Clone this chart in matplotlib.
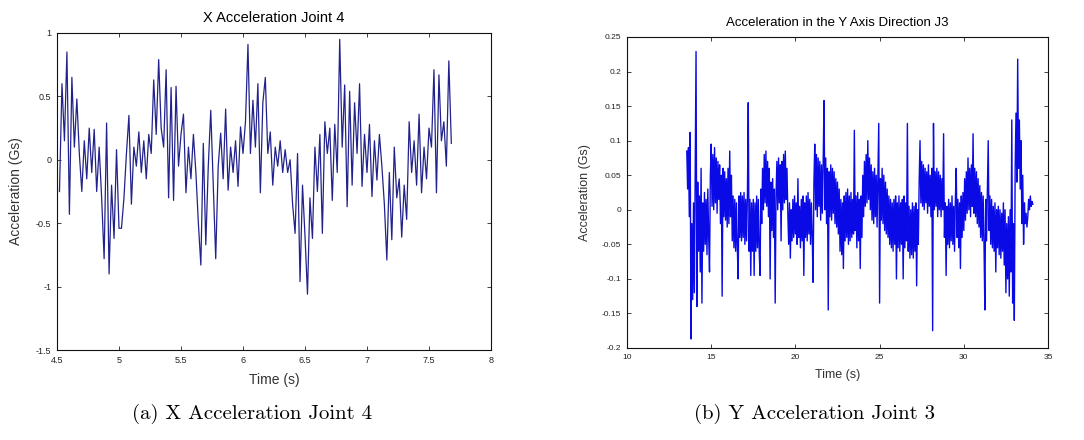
import numpy as np
import matplotlib
matplotlib.use("Agg")
import matplotlib.pyplot as plt
from matplotlib.ticker import FixedLocator, FixedFormatter

# ---------------- data ----------------
# (a) X acceleration joint 4, samples every 0.02 s starting at 4.52 s (Gs)
left_t0 = 4.52
left_dt = 0.02
left_vals = [
    -0.25, 0.60, 0.15, 0.85, -0.43, 0.65, 0.10, 0.48, 0.05, -0.25, 0.15, -0.15, 0.25,
    -0.10, 0.24, -0.25, 0.10, -0.30, -0.78, 0.29, -0.90, -0.20, -0.62, 0.08, -0.54,
    -0.54, -0.30, 0.05, 0.35, -0.35, 0.10, -0.05, 0.22, -0.10, 0.15, -0.15, 0.20, 0.05,
    0.63, 0.20, 0.79, 0.25, 0.10, 0.71, -0.30, 0.57, -0.32, 0.58, -0.05, 0.20,
    0.36, -0.26, 0.10, -0.15, 0.20, -0.10, -0.50, -0.83, 0.13, -0.67, -0.05, 0.39, -0.20,
    -0.78, -0.05, 0.21, -0.15, 0.40, -0.24, 0.10, -0.10, 0.15, -0.21, 0.26, 0.05,
    0.30, 0.91, 0.05, 0.47, 0.10, 0.60, -0.26, 0.45, 0.65, 0.05, 0.22, -0.20, 0.10,
    -0.05, 0.15, -0.10, 0.08, -0.10, 0.00, -0.35, -0.58, 0.05, -0.96, -0.20, -0.60,
    -1.06, -0.30, -0.62, 0.10, -0.25, 0.20, -0.58, 0.30, 0.05, 0.25, -0.32, 0.28, -0.10,
    0.95, 0.10, 0.59, -0.37, 0.54, -0.20, 0.45, 0.05, 0.60, -0.21, 0.20, -0.10,
    0.28, -0.29, 0.15, -0.16, 0.20, -0.05, -0.35, -0.79, -0.10, -0.63, 0.10, -0.30, -0.15,
    -0.61, -0.20, -0.47, 0.30, -0.10, 0.15, -0.20, 0.36, -0.26, 0.10, -0.15, 0.25,
    0.10, 0.71, -0.26, 0.67, 0.15, 0.30, -0.05, 0.78, 0.13,
]

# (b) Y acceleration joint 3, samples every 0.05 s starting at 13.55 s (milli-Gs)
right_t0 = 13.55
right_dt = 0.05
right_vals_milli = [
    85, 30, 90, -10, 112, -187, -20, -130, 10, -120, 45, 229, -140, 40, -60, 20, -90, 60, -135, 10,
    -60, 25, -50, 15, -65, 30, -40, -90, 50, 95, 5, 80, 0, 90, 10, 75, -5, 70, 15, 65,
    -20, 50, -125, 60, -10, 55, -15, 45, -25, 60, -20, 85, -10, 50, -45, 20, -55, 15, -60, 10,
    -55, -100, 20, -40, 25, -45, 20, -40, 25, -50, 15, -45, 20, 155, -60, 15, -95, 10, -60, 15,
    -95, 10, -60, 20, -55, 15, -60, -95, 30, -20, 60, 0, 80, 10, 85, 5, 70, -10, 60, -100,
    40, -30, 45, -40, 30, -135, 20, 70, 0, 75, 10, 65, -45, 70, 0, 80, 10, 85, 15, 60,
    -5, -50, 10, -70, 0, -45, 15, -40, 20, -35, 10, -50, 45, -40, 5, -55, 15, -45, 20, -95,
    10, -40, 20, -45, 25, -35, 15, -50, 10, -40, -105, 40, 95, 0, 80, -10, 75, 5, 70, -15,
    65, -5, 70, 158, 0, 75, -20, 60, -145, 55, -10, 65, -15, 60, -5, 55, -20, 45, -25, 40,
    -35, 30, -60, 15, -65, 10, -85, 20, -45, 25, -40, 30, -50, 20, -45, 25, -40, 15, -35, 115,
    -30, 20, -55, 25, -45, 15, -85, 20, -40, 50, -10, 70, 5, 80, 10, 100, 15, 75, 0, 65,
    -15, 55, -20, 60, -10, 50, -25, 55, 125, -135, 45, -15, 60, -20, 50, -30, 40, -35, 30, -40,
    20, -50, 15, -55, 10, -60, 15, -50, 20, -100, 10, -55, 20, -60, 10, -50, 15, -100, 20, -55,
    10, -45, 125, -60, 5, -70, 0, -65, 10, -70, 5, -60, 10, -110, 0, -50, 40, 100, 10, 70,
    5, 65, 0, 60, 10, 55, -5, 65, 5, 50, -10, 60, -175, 125, 0, 55, 5, 60, -10, 55,
    0, 50, -10, 45, 0, 110, -40, 10, -95, 5, -50, 15, -55, 10, -45, 20, -50, 5, -60, 15,
    60, -40, 15, -55, 10, -85, 20, -40, 25, -30, 45, -15, 55, -5, 75, 0, 60, -10, 65, 5,
    110, -5, 60, -10, 55, -20, 45, -25, 35, -40, 25, -45, 20, -50, -145, 15, -45, 30, 100, -30,
    20, -50, 15, -55, 5, -60, 10, -90, 0, -55, 5, -65, 0, -70, -5, -60, 10, -80, 0, -120,
    -20, -100, -10, -125, 0, -90, 130, -135, -20, -160, 60, 140, 40, 218, 60, 130, 30, 100, -20, 50,
    -50, 10, -20, -5, -25, -10, 15, 0, 20, 5, 12, 8,
]

left_xticks = [4.5, 5, 5.5, 6, 6.5, 7, 7.5, 8]
left_xticklabels = ["4.5", "5", "5.5", "6", "6.5", "7", "7.5", "8"]
left_yticks = [-1.5, -1, -0.5, 0, 0.5, 1]
left_yticklabels = ["-1.5", "-1", "-0.5", "0", "0.5", "1"]

right_xticks = [10, 15, 20, 25, 30, 35]
right_xticklabels = ["10", "15", "20", "25", "30", "35"]
right_yticks = [-0.2, -0.15, -0.1, -0.05, 0, 0.05, 0.1, 0.15, 0.2, 0.25]
right_yticklabels = ["-0.2", "-0.15", "-0.1", "-0.05", "0", "0.05", "0.1", "0.15", "0.2", "0.25"]

left_title = "X Acceleration Joint 4"
right_title = "Acceleration in the Y Axis Direction J3"
left_caption = "(a) X Acceleration Joint 4"
right_caption = "(b) Y Acceleration Joint 3"

# ---------------- plot ----------------
plt.rcParams['font.family'] = ['Liberation Sans', 'DejaVu Sans']

fig = plt.figure(figsize=(10.84, 4.40), dpi=100)
ax1 = fig.add_axes([57/1084, 1 - 350/440, 434/1084, 317/440])
ax2 = fig.add_axes([627/1084, 1 - 348/440, 421/1084, 311/440])

lt = left_t0 + left_dt * np.arange(len(left_vals))
ax1.plot(lt, left_vals, color='#22228c', lw=0.9)
rt = right_t0 + right_dt * np.arange(len(right_vals_milli))
ax2.plot(rt, np.array(right_vals_milli) / 1000.0, color='#0a0ae6', lw=1.0)

def style(ax, xt, xtl, yt, ytl, xlim, ylim, tick_fs):
    ax.set_xlim(*xlim)
    ax.set_ylim(*ylim)
    ax.xaxis.set_major_locator(FixedLocator(xt))
    ax.xaxis.set_major_formatter(FixedFormatter(xtl))
    ax.yaxis.set_major_locator(FixedLocator(yt))
    ax.yaxis.set_major_formatter(FixedFormatter(ytl))
    ax.tick_params(direction='in', top=True, right=True, length=3, width=0.6,
                   labelsize=tick_fs, colors='#222222')
    ax.tick_params(axis='x', pad=4)
    ax.tick_params(axis='y', pad=4)
    for s in ax.spines.values():
        s.set_linewidth(0.8)
        s.set_color('#111111')

style(ax1, left_xticks, left_xticklabels, left_yticks, left_yticklabels, (4.5, 8), (-1.5, 1), 6.5)
style(ax2, right_xticks, right_xticklabels, right_yticks, right_yticklabels, (10, 35), (-0.2, 0.25), 6)

ax1.set_title(left_title, fontsize=10.5, pad=8)
ax1.set_xlabel("Time (s)", fontsize=10, labelpad=6, color='#333333')
ax1.set_ylabel("Acceleration (Gs)", fontsize=10, labelpad=9, color='#333333')

ax2.set_title(right_title, fontsize=9.5, pad=8)
ax2.set_xlabel("Time (s)", fontsize=9, labelpad=6, color='#333333')
ax2.set_ylabel("Acceleration (Gs)", fontsize=9, labelpad=8, color='#333333')

fig.text(252/1084, 1 - 414/440, left_caption, fontsize=15, family='cmr10',
         ha='center', va='center')
fig.text(815/1084, 1 - 414/440, right_caption, fontsize=15, family='cmr10',
         ha='center', va='center')

fig.savefig("out.png", dpi=100, facecolor='white')
